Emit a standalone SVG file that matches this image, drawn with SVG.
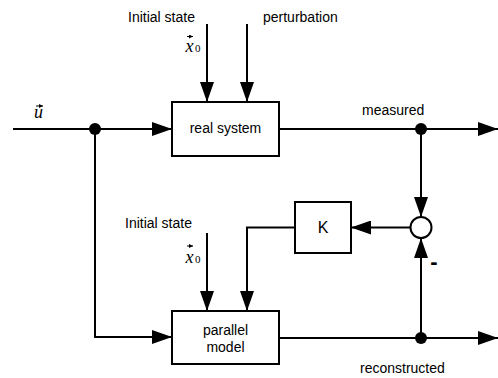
<svg xmlns="http://www.w3.org/2000/svg" width="498" height="378" viewBox="0 0 498 378">
<style>
.box{fill:#fff;stroke:#000;stroke-width:2}
.ln{fill:none;stroke:#000;stroke-width:2}
.t{font-family:"Liberation Sans",Arial,sans-serif;font-size:14px;fill:#000}
.m{font-family:"Liberation Serif","Times New Roman",serif;font-style:italic;font-size:18px;fill:#000}
.s{font-family:"Liberation Serif","Times New Roman",serif;font-size:11px;fill:#000}
.v{stroke:#000;stroke-width:1;fill:none}
</style>
<defs>
<marker id="ah" viewBox="0 0 20 14" refX="20" refY="7" markerWidth="20" markerHeight="14" orient="auto" markerUnits="userSpaceOnUse">
<path d="M0,0 L20,7 L0,14 z" fill="#000"/>
</marker>
<marker id="vh" viewBox="0 0 4 4" refX="4" refY="2" markerWidth="4" markerHeight="4" orient="auto" markerUnits="userSpaceOnUse">
<path d="M0,0 L4,2 L0,4 z" fill="#000"/>
</marker>
</defs>
<g id="connectors">
<path class="ln" d="M13,129 H172" marker-end="url(#ah)"/>
<path class="ln" d="M207,24 V102" marker-end="url(#ah)"/>
<path class="ln" d="M247,24 V102" marker-end="url(#ah)"/>
<path class="ln" d="M279,129 H498" marker-end="url(#ah)"/>
<path class="ln" d="M421,129 V217" marker-end="url(#ah)"/>
<path class="ln" d="M410,227.5 H351" marker-end="url(#ah)"/>
<path class="ln" d="M295,227.5 H247 V311" marker-end="url(#ah)"/>
<path class="ln" d="M207,233 V311" marker-end="url(#ah)"/>
<path class="ln" d="M95,129 V337 H172" marker-end="url(#ah)"/>
<path class="ln" d="M279,338 H498" marker-end="url(#ah)"/>
<path class="ln" d="M421,338 V238" marker-end="url(#ah)"/>
<circle cx="95" cy="129" r="6" fill="#000"/>
<circle cx="421" cy="129" r="6" fill="#000"/>
<circle cx="421" cy="338" r="6" fill="#000"/>
</g>
<g id="real-system">
<rect class="box" x="172" y="102" width="107" height="54"/>
<text class="t" x="225.5" y="133" text-anchor="middle">real system</text>
</g>
<g id="parallel-model">
<rect class="box" x="172" y="311" width="107" height="53"/>
<text class="t" x="225.5" y="335" text-anchor="middle">parallel</text>
<text class="t" x="225.5" y="352" text-anchor="middle">model</text>
</g>
<g id="K">
<rect class="box" x="295" y="202" width="56" height="51"/>
<text class="t" x="323" y="233" text-anchor="middle" style="font-size:16px">K</text>
</g>
<g id="sum">
<circle cx="421" cy="227.5" r="10.5" fill="#fff" stroke="#000" stroke-width="2"/>
<text x="434" y="269" text-anchor="middle" font-family="Liberation Sans,Arial,sans-serif" font-weight="bold" font-size="22">-</text>
</g>
<g id="labels">
<text class="t" x="128" y="22">Initial state</text>
<text class="t" x="263" y="22">perturbation</text>
<text class="t" x="362" y="115">measured</text>
<text class="t" x="360" y="373">reconstructed</text>
<text class="t" x="125" y="228">Initial state</text>
<path class="v" d="M187,36.5 H193" marker-end="url(#vh)"/>
<text class="m" x="185.5" y="52">x</text>
<text class="s" x="195" y="52">0</text>
<path class="v" d="M187,246 H193" marker-end="url(#vh)"/>
<text class="m" x="185.5" y="263">x</text>
<text class="s" x="195" y="263">0</text>
<path class="v" d="M36,106 H43" marker-end="url(#vh)"/>
<text class="m" x="34" y="118">u</text>
</g>
</svg>
